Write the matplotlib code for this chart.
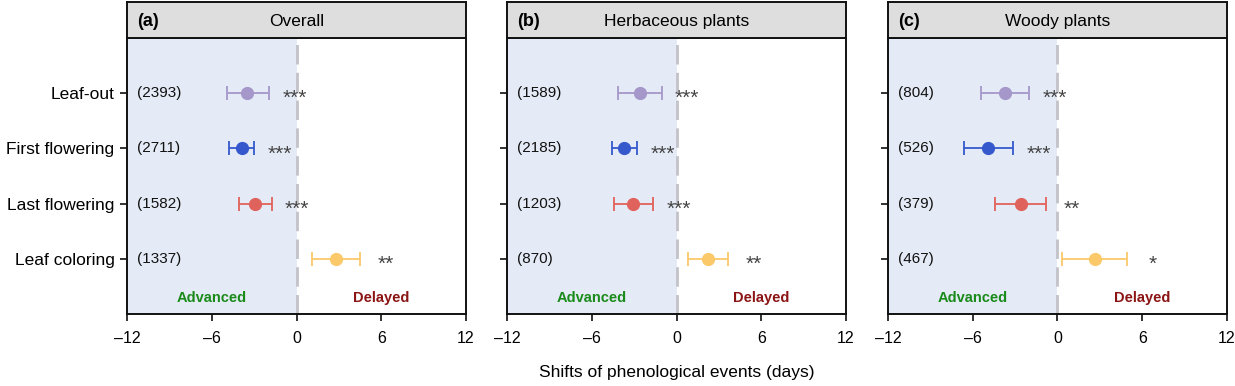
import matplotlib
matplotlib.use("Agg")
import matplotlib.pyplot as plt

plt.rcParams['font.family'] = ['Liberation Sans', 'DejaVu Sans']

events = ["Leaf-out", "First flowering", "Last flowering", "Leaf coloring"]
colors = ["#A597CA", "#3558CC", "#E0625C", "#FBC86A"]

panel_tags = ["(a)", "(b)", "(c)"]
panel_titles = ["Overall", "Herbaceous plants", "Woody plants"]

# mean shift, lower CI, upper CI, sample sizes, significance
means = [
    [-3.5, -3.85, -2.95, 2.8],
    [-2.6, -3.7, -3.05, 2.2],
    [-3.75, -4.9, -2.6, 2.65],
]
lowers = [
    [-4.95, -4.75, -4.1, 1.1],
    [-4.15, -4.6, -4.4, 0.8],
    [-5.45, -6.6, -4.4, 0.35],
]
uppers = [
    [-1.95, -3.0, -1.75, 4.5],
    [-1.05, -2.8, -1.65, 3.65],
    [-2.0, -3.15, -0.8, 4.95],
]
counts = [
    ["(2393)", "(2711)", "(1582)", "(1337)"],
    ["(1589)", "(2185)", "(1203)", "(870)"],
    ["(804)", "(526)", "(379)", "(467)"],
]
signif = [
    ["***", "***", "***", "**"],
    ["***", "***", "***", "**"],
    ["***", "***", "**", "*"],
]
xticks = [-12, -6, 0, 6, 12]
xticklabels = ["\u201312", "\u20136", "0", "6", "12"]

fig = plt.figure(figsize=(12.35, 3.86), dpi=100)
lefts = [127 / 1235, 507 / 1235, 888 / 1235]
width = 339 / 1235
bottom = 1 - 314 / 386
top = 1 - 38 / 386
head_top = 1 - 2 / 386

ypos = [4, 3, 2, 1]

for p in range(3):
    ax = fig.add_axes([lefts[p], bottom, width, top - bottom])
    ax.set_xlim(-12, 12)
    ax.set_ylim(0, 5)
    ax.axvspan(-12, 0, color="#E5EBF6", zorder=0, lw=0)
    ax.axvline(0, color="#C2C2C8", lw=2, ls=(0, (7, 3)), zorder=1)
    for i in range(4):
        m = means[p][i]
        lo = lowers[p][i]
        hi = uppers[p][i]
        ax.errorbar([m], [ypos[i]], xerr=[[m - lo], [hi - m]], fmt="o",
                    color=colors[i], ms=8.5, elinewidth=1.3, capsize=5,
                    capthick=1.3, zorder=3)
        ax.text(-11.3, ypos[i], counts[p][i], ha="left", va="center",
                fontsize=11, color="#111111")
        ax.text(hi + 1.8, ypos[i] - 0.2, signif[p][i], ha="center",
                va="baseline", fontsize=15, color="#444444")
    ax.text(-6, 0.22, "Advanced", ha="center", va="baseline", fontsize=10.5,
            fontweight="bold", color="#1A8A1A")
    ax.text(6, 0.22, "Delayed", ha="center", va="baseline", fontsize=10.5,
            fontweight="bold", color="#8B1515")
    ax.set_yticks(ypos)
    if p == 0:
        ax.set_yticklabels(events, fontsize=12.5)
    else:
        ax.set_yticklabels([])
    ax.set_xticks(xticks)
    ax.set_xticklabels(xticklabels, fontsize=11.5)
    ax.tick_params(axis="both", direction="out", length=5, width=1.3, color="#222222")
    ax.tick_params(axis="x", pad=7)
    ax.tick_params(axis="y", pad=4)
    for s in ax.spines.values():
        s.set_linewidth(1.4)
        s.set_color("#111111")

    hax = fig.add_axes([lefts[p], top, width, head_top - top])
    hax.set_xlim(0, 1)
    hax.set_ylim(0, 1)
    hax.set_facecolor("#DEDEDE")
    hax.set_xticks([])
    hax.set_yticks([])
    for s in hax.spines.values():
        s.set_linewidth(1.4)
        s.set_color("#111111")
    hax.text(0.03, 0.45, panel_tags[p], ha="left", va="center", fontsize=13,
             fontweight="bold")
    hax.text(0.5, 0.45, panel_titles[p], ha="center", va="center", fontsize=12.5)

fig.text(677 / 1235, 1 - 372 / 386, "Shifts of phenological events (days)",
         ha="center", va="center", fontsize=12.5)

fig.savefig("out.png", dpi=100)
